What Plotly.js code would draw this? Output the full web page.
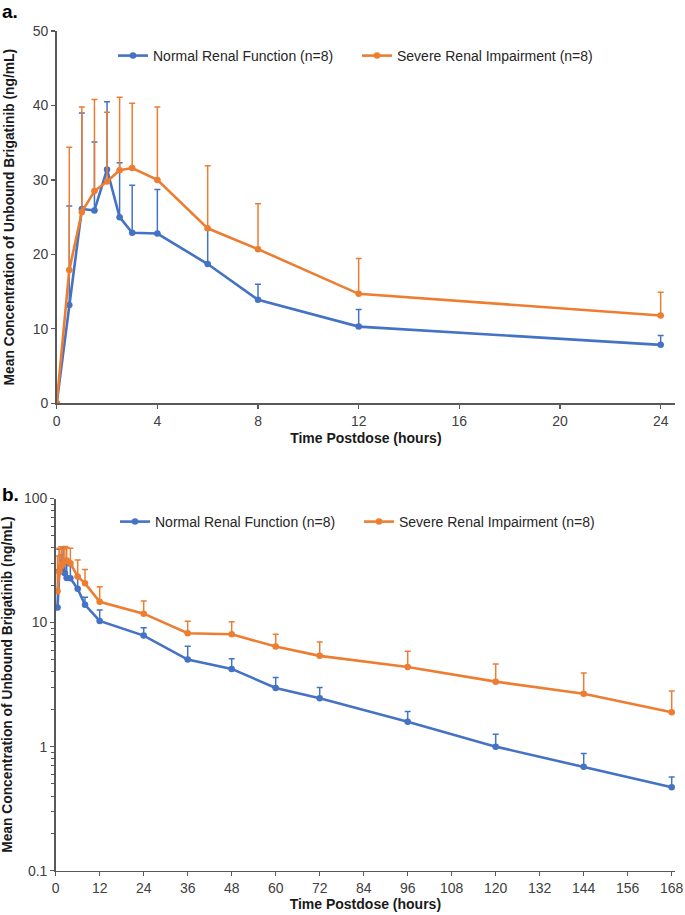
<!DOCTYPE html>
<html>
<head>
<meta charset="utf-8">
<script src="https://cdn.plot.ly/plotly-3.0.1.min.js"></script>
<style>html,body{margin:0;padding:0;background:#fff}#chart{width:685px;height:915px}</style>
</head>
<body>
<div id="chart"></div>
<script>
// Time points (hours postdose)
const timeHours = [0, 0.5, 1, 1.5, 2, 2.5, 3, 4, 6, 8, 12, 24, 36, 48, 60, 72, 96, 120, 144, 168];
// Normal renal function: mean and SD (upper error bar)
const normalMean = [0, 13.2, 26.1, 25.9, 31.4, 25.0, 22.9, 22.8, 18.7, 13.9, 10.3, 7.85, 5.03, 4.23, 2.97, 2.45, 1.59, 1.00, 0.69, 0.47];
const normalSD   = [0, 13.3, 12.9, 9.2, 9.1, 7.3, 6.4, 5.9, 4.6, 2.1, 2.3, 1.25, 1.41, 0.89, 0.63, 0.54, 0.33, 0.26, 0.19, 0.10];
// Severe renal impairment: mean and SD (upper error bar)
const severeMean = [0, 17.9, 25.7, 28.5, 29.8, 31.3, 31.6, 30.0, 23.5, 20.7, 14.7, 11.8, 8.2, 8.05, 6.4, 5.39, 4.39, 3.34, 2.67, 1.89];
const severeSD   = [0, 16.5, 14.1, 12.3, 9.3, 9.8, 8.7, 9.8, 8.4, 6.1, 4.75, 3.1, 2.05, 2.08, 1.65, 1.59, 1.48, 1.30, 1.26, 0.92];
const seriesNames = ['Normal Renal Function (n=8)', 'Severe Renal Impairment (n=8)'];
const topTicksX = [0, 4, 8, 12, 16, 20, 24];
const bottomTicksX = [0, 12, 24, 36, 48, 60, 72, 84, 96, 108, 120, 132, 144, 156, 168];
const panelLabels = ['a.', 'b.'];
const xTitle = 'Time Postdose (hours)';
const yTitle = 'Mean Concentration of Unbound Brigatinib (ng/mL)';

const BLUE = '#4472C4', ORANGE = '#ED7D31';
const W = 685, H = 915;
const nTop = timeHours.indexOf(24) + 1;
const FONT = 'Liberation Sans, Arial, sans-serif';

function mk(name, x, y, sd, color, xa, ya, legend) {
  return {
    type: 'scatter', mode: 'lines+markers', name: name,
    x: x, y: y, xaxis: xa, yaxis: ya, legend: legend, showlegend: true,
    line: {color: color, width: 2.6},
    marker: {color: color, size: 6.5},
    error_y: {type: 'data', symmetric: false, array: sd, arrayminus: sd.map(() => 0),
              color: color, thickness: 1.5, width: 3}
  };
}

const sl = a => a.slice(0, nTop);
// zero concentration cannot be drawn on the log axis
const logSafe = a => a.map(v => (v > 0 ? v : null));
const data = [
  mk(seriesNames[0], sl(timeHours), sl(normalMean), sl(normalSD), BLUE, 'x', 'y', 'legend'),
  mk(seriesNames[1], sl(timeHours), sl(severeMean), sl(severeSD), ORANGE, 'x', 'y', 'legend'),
  mk(seriesNames[0], timeHours, logSafe(normalMean), normalSD, BLUE, 'x2', 'y2', 'legend2'),
  mk(seriesNames[1], timeHours, logSafe(severeMean), severeSD, ORANGE, 'x2', 'y2', 'legend2')
];

const tickFont = {family: FONT, size: 14, color: '#404040'};
const titleFont = {family: FONT, size: 14, color: '#1a1a1a', weight: 'bold'};
const yTitleFont = {family: FONT, size: 13.8, color: '#1a1a1a', weight: 'bold'};
const axisCommon = {
  showgrid: false, zeroline: false, showline: true, linecolor: '#595959', linewidth: 1.5,
  ticks: 'outside', ticklen: 4, tickwidth: 1.3, tickcolor: '#595959', tickfont: tickFont,
  fixedrange: true
};
const px = v => v / W, py = v => 1 - v / H;
const legendFont = {family: FONT, size: 14, color: '#262626'};

const layout = {
  width: W, height: H, margin: {l: 0, r: 0, t: 0, b: 0},
  paper_bgcolor: '#fff', plot_bgcolor: '#fff',
  font: {family: FONT},
  xaxis: Object.assign({}, axisCommon, {
    domain: [px(56.7), px(675)], range: [0, 24.57], tickmode: 'array', tickvals: topTicksX,
    anchor: 'y', title: {text: xTitle, font: titleFont, standoff: 5}
  }),
  yaxis: Object.assign({}, axisCommon, {
    domain: [py(403.3), py(31)], range: [0, 50], dtick: 10, anchor: 'x',
    title: {text: yTitle, font: yTitleFont, standoff: 15}
  }),
  xaxis2: Object.assign({}, axisCommon, {
    domain: [px(55.7), px(675)], range: [0, 168.9], tickmode: 'array', tickvals: bottomTicksX,
    anchor: 'y2', title: {text: xTitle, font: titleFont, standoff: 3}
  }),
  yaxis2: Object.assign({}, axisCommon, {
    domain: [py(870.7), py(498.5)], type: 'log', range: [-1, 2], dtick: 1, anchor: 'x2',
    minor: {dtick: 'D1', ticks: 'outside', ticklen: 3, tickwidth: 1, tickcolor: '#595959', showgrid: false},
    title: {text: yTitle, font: yTitleFont, standoff: 11}
  }),
  legend: {orientation: 'h', x: px(113), y: py(40), xanchor: 'left', yanchor: 'top',
           font: legendFont, bgcolor: 'rgba(0,0,0,0)', entrywidth: 199},
  legend2: {orientation: 'h', x: px(115), y: py(506), xanchor: 'left', yanchor: 'top',
           font: legendFont, bgcolor: 'rgba(0,0,0,0)', entrywidth: 199},
  annotations: [
    {text: panelLabels[0], xref: 'paper', yref: 'paper', x: px(0), y: py(-1), xanchor: 'left', yanchor: 'top',
     showarrow: false, font: {family: FONT, size: 19, color: '#000', weight: 'bold'}},
    {text: panelLabels[1], xref: 'paper', yref: 'paper', x: px(0), y: py(482), xanchor: 'left', yanchor: 'top',
     showarrow: false, font: {family: FONT, size: 19, color: '#000', weight: 'bold'}}
  ]
};

Plotly.newPlot('chart', data, layout, {displayModeBar: false, staticPlot: true});
</script>
</body>
</html>
